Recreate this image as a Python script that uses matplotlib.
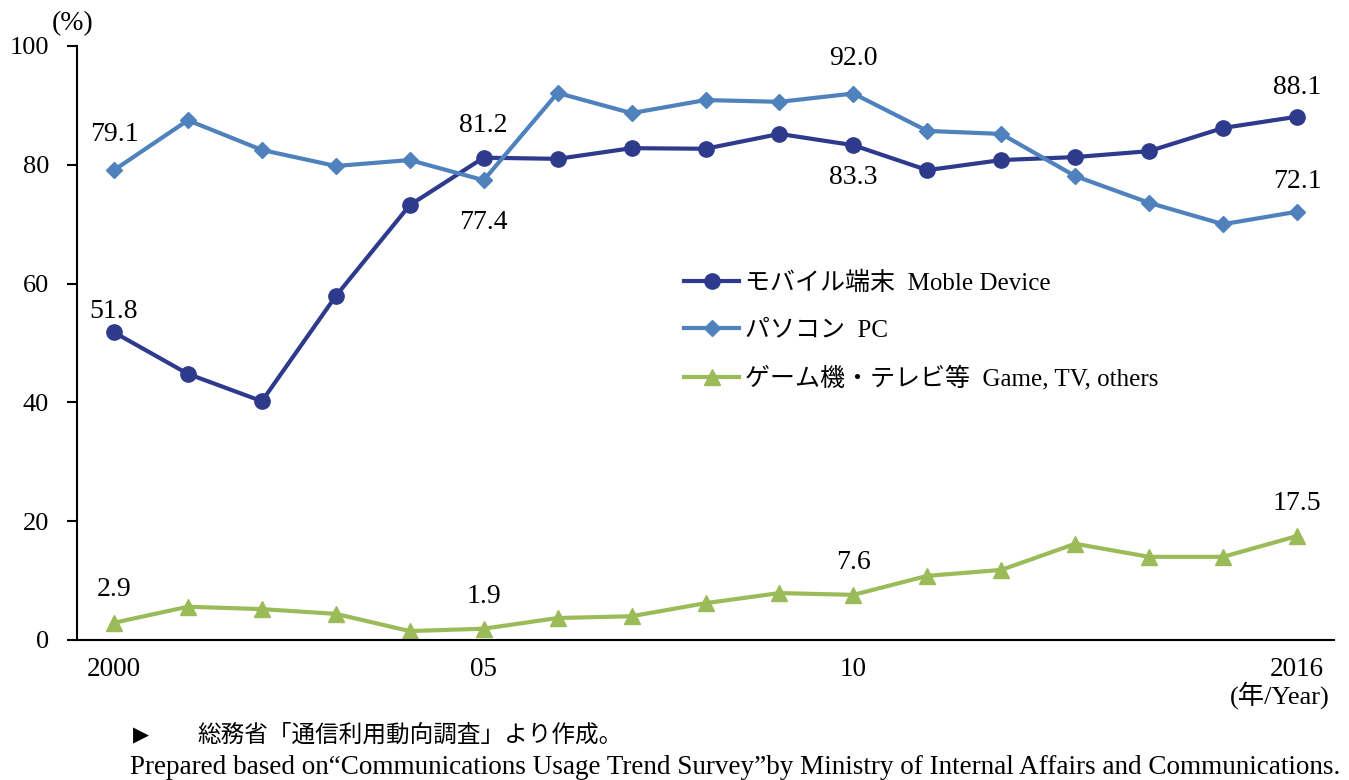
import matplotlib.pyplot as plt

plt.rcParams['font.family'] = ['Liberation Serif', 'Noto Sans CJK JP', 'DejaVu Sans']

years = list(range(2000, 2017))
mobile = [51.8, 44.8, 40.2, 57.9, 73.2, 81.2, 81.0, 82.8, 82.7, 85.2, 83.3,
          79.1, 80.8, 81.3, 82.3, 86.2, 88.1]
pc = [79.1, 87.5, 82.5, 79.8, 80.8, 77.4, 92.1, 88.7, 90.9, 90.6, 92.0,
      85.7, 85.2, 78.1, 73.6, 70.0, 72.1]
game = [2.9, 5.6, 5.2, 4.4, 1.5, 1.9, 3.7, 4.0, 6.2, 7.9, 7.6,
        10.8, 11.8, 16.2, 14.0, 14.0, 17.5]

labels = ["モバイル端末  Moble Device", "パソコン  PC", "ゲーム機・テレビ等  Game, TV, others"]
colors = ["#2e3a8c", "#4f81bd", "#9bbb59"]
xtick_years = [2000, 2005, 2010, 2016]
xtick_labels = ["2000", "05", "10", "2016"]

fig = plt.figure(figsize=(13.49, 7.8), dpi=100)
ax = fig.add_axes([77 / 1349, 1 - 640 / 780, (1334 - 77) / 1349, (640 - 46) / 780])

ax.plot(years, mobile, color=colors[0], lw=3, marker='o', ms=11, label=labels[0])
ax.plot(years, pc, color=colors[1], lw=3, marker='D', ms=8.5, label=labels[1])
ax.plot(years, game, color=colors[2], lw=3, marker='^', ms=11, label=labels[2])

ax.set_xlim(1999.5, 2016.5)
ax.set_ylim(0, 100)
ax.set_yticks(range(0, 101, 20))
ax.set_xticks(xtick_years)
ax.set_xticklabels(xtick_labels)
ax.tick_params(axis='y', labelsize=19, length=7, width=1.5, direction='out', pad=13)
ax.tick_params(axis='x', labelsize=19.5, length=0, pad=12)
for s in ['top', 'right']:
    ax.spines[s].set_visible(False)
ax.spines['left'].set_linewidth(1.5)
ax.spines['bottom'].set_linewidth(1.5)

# value labels (year, pixel offset up)
idx = {y: i for i, y in enumerate(years)}
ann = [
    (mobile, 2000, 21), (mobile, 2005, 32), (mobile, 2010, -32), (mobile, 2016, 29),
    (pc, 2000, 36), (pc, 2005, -42), (pc, 2010, 35), (pc, 2016, 30),
    (game, 2000, 33), (game, 2005, 32), (game, 2010, 32), (game, 2016, 33),
]
for series, yr, dy in ann:
    v = series[idx[yr]]
    ax.annotate(f"{v:.1f}", (yr, v), xytext=(0, dy), textcoords='offset pixels',
                ha='center', va='center', fontsize=20)

ax.legend(loc='upper left', bbox_to_anchor=(0.465, 0.658), frameon=False,
          fontsize=18, handlelength=2.2, labelspacing=0.97, handletextpad=0.25)

fig.text(73 / 1349, 1 - 24 / 780, "(%)", fontsize=20, ha='center', va='center')
fig.text(1330 / 1349, 1 - 695 / 780, "(年/Year)", fontsize=19, ha='right', va='center')
fig.text(133 / 1349, 1 - 735 / 780, "▶", fontsize=15, ha='left', va='center',
         family=['DejaVu Sans'])
fig.text(197 / 1349, 1 - 735 / 780, "総務省「通信利用動向調査」より作成。", fontsize=17,
         ha='left', va='center')
fig.text(130 / 1349, 1 - 768 / 780,
         "Prepared based on\u201cCommunications Usage Trend Survey\u201dby Ministry of Internal Affairs and Communications.",
         fontsize=19.5, ha='left', va='center')

fig.savefig("out.png", dpi=100)
